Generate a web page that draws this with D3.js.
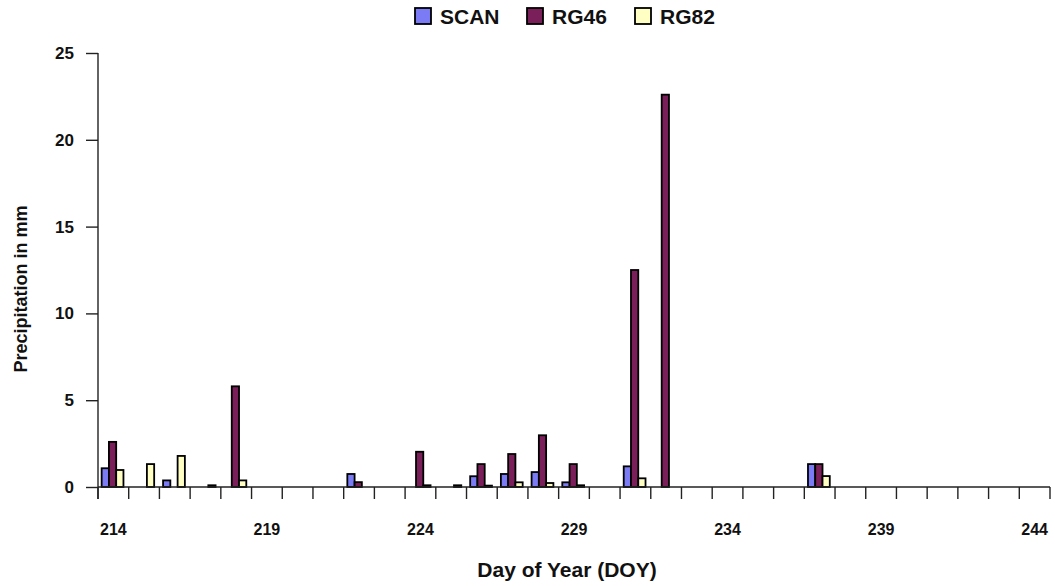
<!DOCTYPE html>
<html>
<head>
<meta charset="utf-8">
<script src="https://cdn.jsdelivr.net/npm/d3@7"></script>
<style>
  body { margin: 0; background: #fff; }
  text { font-family: "Liberation Sans", Arial, sans-serif; font-weight: bold; }
</style>
</head>
<body>
<script>
// days on the x axis
var days = [214, 215, 216, 217, 218, 219, 220, 221, 222, 223, 224, 225, 226, 227, 228, 229,
            230, 231, 232, 233, 234, 235, 236, 237, 238, 239, 240, 241, 242, 243, 244];
var seriesNames = ["SCAN", "RG46", "RG82"];
var seriesColors = ["#7b7bf5", "#7b1f5b", "#ffffc4"];

// precipitation in mm, one value per day
var scan = [1.08, 0, 0.38, 0, 0, 0, 0, 0, 0.75, 0, 0, 0, 0.62, 0.75, 0.86, 0.27,
            0, 1.19, 0, 0, 0, 0, 0, 1.32, 0, 0, 0, 0, 0, 0, 0];
var rg46 = [2.6, 0, 0, 0, 5.8, 0, 0, 0, 0.28, 0, 2.03, 0, 1.32, 1.9, 2.98, 1.32,
            0, 12.5, 22.6, 0, 0, 0, 0, 1.32, 0, 0, 0, 0, 0, 0, 0];
var rg82 = [0.98, 1.32, 1.79, 0.1, 0.38, 0, 0, 0, 0, 0, 0.1, 0.1, 0.08, 0.27, 0.23, 0.1,
            0, 0.5, 0, 0, 0, 0, 0, 0.63, 0, 0, 0, 0, 0, 0, 0];
var yTicks = [0, 5, 10, 15, 20, 25];
var xLabelDays = [214, 219, 224, 229, 234, 239, 244];

var outerWidth = 1055,
  outerHeight = 586,
  plotLeft = 98, plotRight = 1050, plotTop = 53, plotBottom = 487;

var svg = d3.select("body").append("svg")
    .attr("width", outerWidth)
    .attr("height", outerHeight);

var x = d3.scaleBand()
    .domain(days)
    .range([plotLeft, plotRight])
    .padding(0);

var bw = x.bandwidth(),
  gw = bw * 0.71;
var xs = d3.scaleBand()
    .domain(seriesNames)
    .range([(bw - gw) / 2 - 0.8, (bw + gw) / 2 - 0.8]);

var y = d3.scaleLinear()
    .domain([0, 25])
    .range([plotBottom, plotTop]);

// bars
var allSeries = [scan, rg46, rg82];
var rows = [];
allSeries.forEach(function(vals, s) {
  vals.forEach(function(v, i) {
    if (v > 0) rows.push({day: days[i], name: seriesNames[s], color: seriesColors[s], value: v});
  });
});

svg.selectAll("rect.bar")
    .data(rows)
    .enter().append("rect")
    .attr("class", "bar")
    .attr("x", function(d) { return x(d.day) + xs(d.name); })
    .attr("y", function(d) { return y(d.value); })
    .attr("width", xs.bandwidth())
    .attr("height", function(d) { return plotBottom - y(d.value); })
    .attr("fill", function(d) { return d.color; })
    .attr("stroke", "#000")
    .attr("stroke-width", 1.8);

// y axis
var yAxis = d3.axisLeft(y)
    .tickValues(yTicks)
    .tickSize(12)
    .tickPadding(12);

var gy = svg.append("g")
    .attr("transform", "translate(" + plotLeft + ",0)")
    .call(yAxis);
gy.select(".domain").remove();
gy.append("line")
    .attr("x1", 0).attr("x2", 0)
    .attr("y1", plotTop).attr("y2", plotBottom + 12)
    .attr("stroke", "#222").attr("stroke-width", 1.4);
gy.selectAll(".tick line").attr("stroke", "#222").attr("stroke-width", 1.4);
gy.selectAll(".tick text")
    .attr("fill", "#111")
    .style("font-size", "17px");

// x axis: tick marks on band edges, labels every fifth day
var edges = days.map(function(d) { return x(d); }).concat([plotRight]);
var gx = svg.append("g");
gx.append("line")
    .attr("x1", plotLeft).attr("x2", plotRight)
    .attr("y1", plotBottom).attr("y2", plotBottom)
    .attr("stroke", "#222").attr("stroke-width", 1.4);
gx.selectAll("line.tk")
    .data(edges)
    .enter().append("line")
    .attr("class", "tk")
    .attr("x1", function(d) { return d; })
    .attr("x2", function(d) { return d; })
    .attr("y1", plotBottom)
    .attr("y2", plotBottom + 12)
    .attr("stroke", "#222").attr("stroke-width", 1.4);
gx.selectAll("text")
    .data(xLabelDays)
    .enter().append("text")
    .attr("x", function(d) { return x(d) + bw / 2; })
    .attr("y", 535)
    .attr("text-anchor", "middle")
    .attr("fill", "#111")
    .style("font-size", "16px")
    .text(function(d) { return d; });

// axis titles
svg.append("text")
    .attr("x", 567)
    .attr("y", 577)
    .attr("text-anchor", "middle")
    .attr("fill", "#111")
    .style("font-size", "21px")
    .text("Day of Year (DOY)");

svg.append("text")
    .attr("transform", "translate(27," + ((plotTop + plotBottom) / 2 + 19) + ") rotate(-90)")
    .attr("text-anchor", "middle")
    .attr("fill", "#111")
    .style("font-size", "18px")
    .text("Precipitation in mm");

// legend
var legendX = [415, 527, 635];
var legend = svg.selectAll("g.legend")
    .data(seriesNames)
    .enter().append("g")
    .attr("class", "legend")
    .attr("transform", function(d, i) { return "translate(" + legendX[i] + ",8)"; });
legend.append("rect")
    .attr("width", 16).attr("height", 16)
    .attr("fill", function(d, i) { return seriesColors[i]; })
    .attr("stroke", "#000").attr("stroke-width", 1.8);
legend.append("text")
    .attr("x", 25)
    .attr("y", 16)
    .attr("fill", "#111")
    .style("font-size", "21px")
    .text(function(d) { return d; });
</script>
</body>
</html>
